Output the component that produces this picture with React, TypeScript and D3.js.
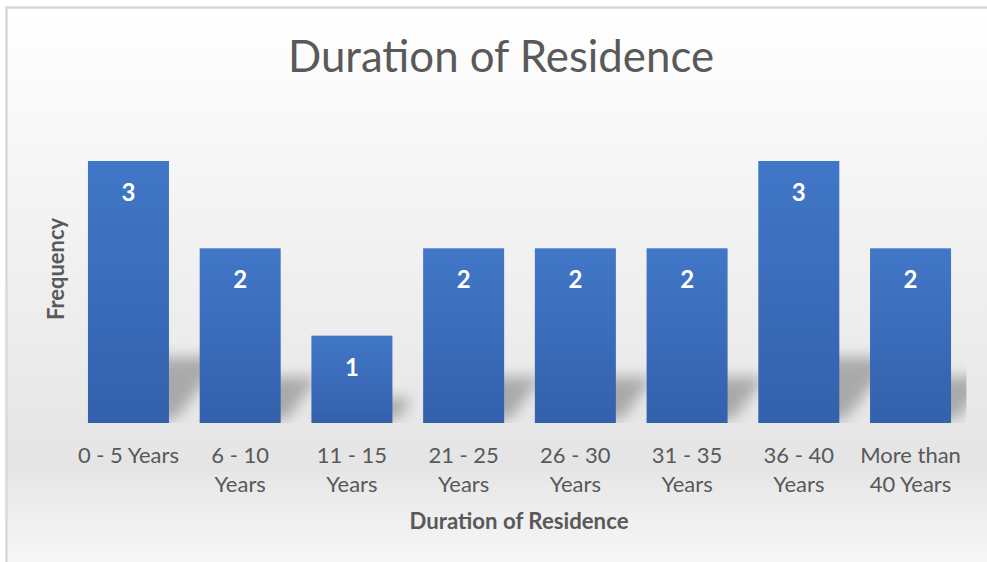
import React from "react";
import * as d3 from "d3";

const categories = [
  "0 - 5 Years",
  "6 - 10\nYears",
  "11 - 15\nYears",
  "21 - 25\nYears",
  "26 - 30\nYears",
  "31 - 35\nYears",
  "36 - 40\nYears",
  "More than\n40 Years",
];
const frequency = [3, 2, 1, 2, 2, 2, 3, 2];
const chartTitle = "Duration of Residence";
const xAxisTitle = "Duration of Residence";
const yAxisTitle = "Frequency";

const W = 987;
const H = 562;
const FONT = "Lato, 'Open Sans', sans-serif";
const TEXT = "#595959";

export default function App() {
  const plot = { left: 72.6, right: 966.4, top: 117.3, bottom: 423 };
  const x = d3
    .scaleBand<string>()
    .domain(categories)
    .range([plot.left, plot.right])
    .paddingInner(0.275)
    .paddingOuter(0.1375);
  const y = d3.scaleLinear().domain([0, 3.5]).range([plot.bottom, plot.top]);

  return (
    <svg
      width={W}
      height={H}
      style={{ position: "absolute", left: 0, top: 0, display: "block" }}
    >
      <defs>
        <linearGradient id="bg" x1="0" y1="0" x2="0" y2="1">
          <stop offset="0" stopColor="#ffffff" />
          <stop offset="0.2" stopColor="#f8f8f8" />
          <stop offset="0.76" stopColor="#e5e5e5" />
          <stop offset="1" stopColor="#ffffff" />
        </linearGradient>
        <linearGradient id="bar" x1="0" y1="0" x2="0" y2="1">
          <stop offset="0" stopColor="#4177c7" />
          <stop offset="1" stopColor="#3361ac" />
        </linearGradient>
        <filter id="blur" x="-50%" y="-50%" width="200%" height="200%">
          <feGaussianBlur stdDeviation="7" />
        </filter>
        <clipPath id="plotClip">
          <rect
            x={plot.left}
            y={plot.top}
            width={plot.right - plot.left}
            height={plot.bottom - plot.top}
          />
        </clipPath>
      </defs>

      <rect
        x={6.5}
        y={7.5}
        width={1000}
        height={600}
        fill="url(#bg)"
        stroke="#d9d9d9"
        strokeWidth={2.5}
      />

      <text
        x={501}
        y={72}
        textAnchor="middle"
        fontFamily={FONT}
        fontSize={45}
        fill={TEXT}
        textLength={426}
        lengthAdjust="spacingAndGlyphs"
      >
        {chartTitle}
      </text>

      {/* shadows */}
      <g clipPath="url(#plotClip)">
        {categories.map((c, i) => {
          const x0 = x(c)!;
          const x1 = x0 + x.bandwidth();
          const hBar = plot.bottom - y(frequency[i]);
          const h = Math.min(hBar * 0.24, 62);
          const s = h * 0.9;
          const b = plot.bottom - 4;
          const pts = [
            [x0 + 6, b],
            [x1 + 6, b],
            [x1 + s, b - h],
            [x0 + s, b - h],
          ]
            .map((p) => p.join(","))
            .join(" ");
          return (
            <polygon
              key={"s" + i}
              points={pts}
              fill="#7f7f7f"
              opacity={0.6}
              filter="url(#blur)"
            />
          );
        })}
      </g>

      {categories.map((c, i) => (
        <rect
          key={"b" + i}
          x={x(c)}
          y={y(frequency[i])}
          width={x.bandwidth()}
          height={plot.bottom - y(frequency[i])}
          fill="url(#bar)"
        />
      ))}

      {categories.map((c, i) => (
        <text
          key={"l" + i}
          x={x(c)! + x.bandwidth() / 2}
          y={y(frequency[i]) + 40}
          textAnchor="middle"
          fontFamily={FONT}
          fontWeight="bold"
          fontSize={24}
          fill="#ffffff"
        >
          {frequency[i]}
        </text>
      ))}

      {categories.map((c, i) => (
        <text
          key={"t" + i}
          x={x(c)! + x.bandwidth() / 2}
          y={463}
          textAnchor="middle"
          fontFamily={FONT}
          fontSize={22}
          fill={TEXT}
        >
          {c.split("\n").map((line, j) => (
            <tspan key={j} x={x(c)! + x.bandwidth() / 2} dy={j === 0 ? 0 : 29}>
              {line}
            </tspan>
          ))}
        </text>
      ))}

      <text
        x={519}
        y={529}
        textAnchor="middle"
        fontFamily={FONT}
        fontWeight="bold"
        fontSize={22}
        fill={TEXT}
        textLength={219}
        lengthAdjust="spacingAndGlyphs"
      >
        {xAxisTitle}
      </text>

      <text
        transform="translate(64,269) rotate(-90)"
        textAnchor="middle"
        fontFamily={FONT}
        fontWeight="bold"
        fontSize={22}
        fill={TEXT}
        textLength={102}
        lengthAdjust="spacingAndGlyphs"
      >
        {yAxisTitle}
      </text>
    </svg>
  );
}
